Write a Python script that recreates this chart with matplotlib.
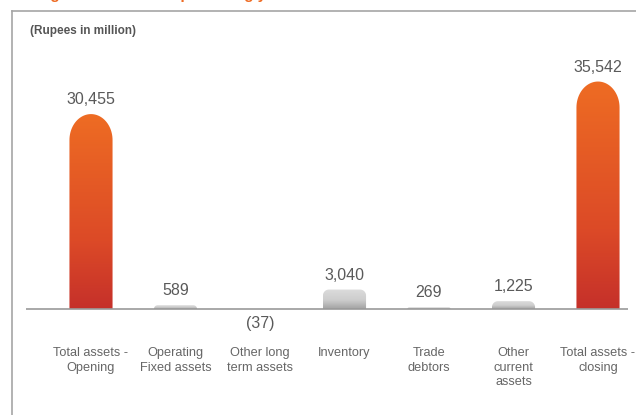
import numpy as np
import matplotlib
matplotlib.use("Agg")
import matplotlib.pyplot as plt
from matplotlib.path import Path
from matplotlib.patches import PathPatch
from matplotlib.colors import LinearSegmentedColormap
from matplotlib.lines import Line2D

categories = [
    "Total assets -\nOpening",
    "Operating\nFixed assets",
    "Other long\nterm assets",
    "Inventory",
    "Trade\ndebtors",
    "Other\ncurrent\nassets",
    "Total assets -\nclosing",
]
values = [30455, 589, -37, 3040, 269, 1225, 35542]
value_labels = ["30,455", "589", "(37)", "3,040", "269", "1,225", "35,542"]
is_total = [True, False, False, False, False, False, True]

plt.rcParams["font.family"] = ["Liberation Sans", "DejaVu Sans"]

W, H = 636, 415
fig = plt.figure(figsize=(W / 100, H / 100), dpi=100)

# plot area geometry (pixels, measured from the top-left corner)
ax_left, ax_right = 26, 628
ax_top = 11
base_y = 309
first_c, step = 91, 84.5
px_per_unit = 0.0064

ax = fig.add_axes([ax_left / W, 0, (ax_right - ax_left) / W, (H - ax_top) / H])
xlim = (-(first_c - ax_left) / step, 6 + (ax_right - (first_c + 6 * step)) / step)
ylim = (-(H - base_y) / px_per_unit, (base_y - ax_top) / px_per_unit)

ux = 1.0 / step          # data units per pixel (x)
uy = 1.0 / px_per_unit   # data units per pixel (y)

x = np.arange(len(categories))
bars = ax.bar(x, values, width=0.51, color="none", edgecolor="none")

orange_cmap = LinearSegmentedColormap.from_list(
    "orange", [(0.0, "#C5302A"), (0.35, "#DC4A27"), (1.0, "#EE6C23")])
grey_cmap = LinearSegmentedColormap.from_list(
    "grey", [(0.0, "#A2A2A2"), (0.45, "#CDCDCD"), (1.0, "#DCDCDC")])
grad = np.linspace(0, 1, 256).reshape(-1, 1)


def corner(cx, cy, rx, ry, t0, t1, n=24):
    t = np.linspace(np.radians(t0), np.radians(t1), n)
    return list(zip(cx + rx * np.cos(t), cy + ry * np.sin(t)))


for rect, total in zip(bars, is_total):
    x0, w, h = rect.get_x(), rect.get_width(), rect.get_height()
    x1 = x0 + w
    h_px = abs(h) / uy
    if h > 0:
        if h_px > 60:
            rx, ry = w / 2, 26 * uy
        else:
            r = min(6.0, h_px)
            rx, ry = r * ux, r * uy
        pts = [(x0, 0.0), (x0, h - ry)]
        pts += corner(x0 + rx, h - ry, rx, ry, 180, 90)
        pts += corner(x1 - rx, h - ry, rx, ry, 90, 0)
        pts += [(x1, 0.0), (x0, 0.0)]
        y_lo, y_hi = 0.0, h
    else:
        pts = [(x0, 0.0), (x0, h), (x1, h), (x1, 0.0), (x0, 0.0)]
        y_lo, y_hi = h, 0.0
    patch = PathPatch(Path(pts), facecolor="none", edgecolor="none")
    ax.add_patch(patch)
    im = ax.imshow(grad, extent=[x0, x1, y_lo, y_hi], origin="lower",
                   aspect="auto", cmap=orange_cmap if total else grey_cmap,
                   zorder=2, interpolation="bilinear")
    im.set_clip_path(patch)

# baseline
ax.axhline(0, color="#9A9A9A", lw=1.2, zorder=3)

# value labels
for xi, v, lab in zip(x, values, value_labels):
    if v >= 0:
        ax.annotate(lab, (xi, v), xytext=(0, 5), textcoords="offset points",
                    ha="center", va="bottom", fontsize=11.5, color="#5A5A5A")
    else:
        ax.annotate(lab, (xi, min(v, 0)), xytext=(0, -5),
                    textcoords="offset points", ha="center", va="top",
                    fontsize=11.5, color="#5A5A5A")

# category labels
for xi, cat in zip(x, categories):
    ax.annotate(cat, (xi, 0), xytext=(0, -(347 - base_y) * 0.72),
                textcoords="offset points", ha="center", va="top",
                fontsize=9.2, color="#666666", linespacing=1.3)

ax.set_xlim(*xlim)
ax.set_ylim(*ylim)
ax.axis("off")

# panel frame
fig.add_artist(Line2D([12 / W, 12 / W], [0, 1 - 11 / H], color="#A5A5A5", lw=1.2))
fig.add_artist(Line2D([12 / W, 1], [1 - 11 / H, 1 - 11 / H], color="#A5A5A5", lw=1.2))

# section heading, running off the top edge of the panel
fig.text(12 / W, 1 + 1.5 / H, "Change in assets from preceding year",
         color="#EE6B23", fontweight="bold", fontsize=11, va="baseline", ha="left")
fig.text(30 / W, 1 - 31 / H, "(Rupees in million)", color="#555555",
         fontweight="bold", fontsize=8.5, va="center", ha="left")

fig.savefig("out.png", dpi=100)
